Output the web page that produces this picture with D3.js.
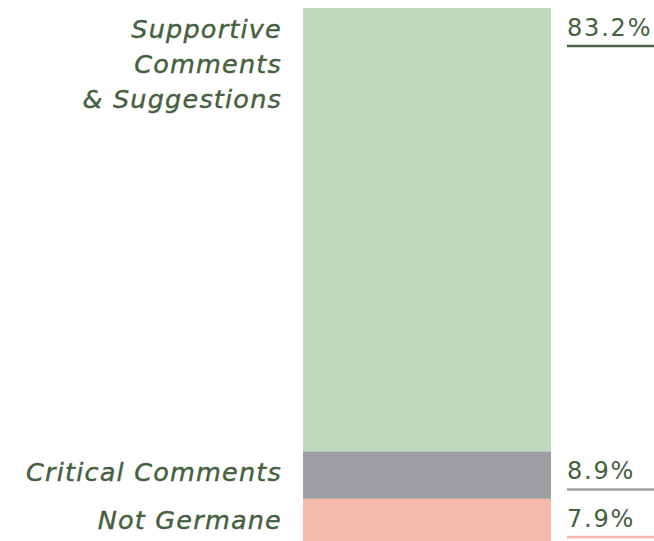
<!DOCTYPE html>
<html>
<head>
<meta charset="utf-8">
<script src="https://cdn.jsdelivr.net/npm/d3@7"></script>
<style>
  body { margin: 0; background: #fff; }
  svg { display: block; }
</style>
</head>
<body>
<svg id="chart" width="654" height="541"></svg>
<script>
const categories = ["Supportive Comments & Suggestions", "Critical Comments", "Not Germane"];
const labelLines = [["Supportive", "Comments", "& Suggestions"], ["Critical Comments"], ["Not Germane"]];
const values = [83.2, 8.9, 7.9];
const valueLabels = ["83.2%", "8.9%", "7.9%"];
const colors = ["#c0dabf", "#9e9fa2", "#f4b9a8"];
const ruleColors = ["#4a6445", "#9e9fa2", "#f4b9a8"];

const textColor = "#45603f";
const svg = d3.select("#chart");

// stack the single bar
let acc = 0;
const segs = values.map((v, i) => {
  const s = { i: i, y0: acc, y1: acc + v };
  acc += v;
  return s;
});

const y = d3.scaleLinear().domain([0, d3.sum(values)]).range([8, 541]);
const x = d3.scaleBand().domain(["all"]).range([303, 551]).padding(0);

svg.selectAll("rect.seg")
  .data(segs)
  .enter()
  .append("rect")
  .attr("class", "seg")
  .attr("x", x("all"))
  .attr("width", x.bandwidth())
  .attr("y", d => y(d.y0))
  .attr("height", d => y(d.y1) - y(d.y0))
  .attr("fill", d => colors[d.i]);

// category labels on the left
const lineH = 35;
segs.forEach(d => {
  const t = svg.append("text")
    .attr("x", 282)
    .attr("y", y(d.y0) + 30)
    .attr("text-anchor", "end")
    .attr("fill", textColor)
    .style("font-family", "'DejaVu Sans', sans-serif")
    .style("font-style", "italic")
    .style("font-size", "25.5px")
    .style("letter-spacing", "1.2px")
    .style("stroke", textColor)
    .style("stroke-width", "0.4px");
  labelLines[d.i].forEach((ln, k) => {
    t.append("tspan").attr("x", 282).attr("dy", k === 0 ? 0 : lineH).text(ln);
  });
});

// value labels on the right, with a coloured rule
segs.forEach(d => {
  const base = y(d.y0) + 28;
  svg.append("text")
    .attr("x", 567)
    .attr("y", base)
    .attr("fill", textColor)
    .style("font-family", "'DejaVu Sans', sans-serif")
    .style("font-size", "24px")
    .style("letter-spacing", "1.8px")
    .text(valueLabels[d.i]);
  svg.append("line")
    .attr("x1", 567)
    .attr("x2", 654)
    .attr("y1", base + 10)
    .attr("y2", base + 10)
    .attr("stroke", ruleColors[d.i])
    .attr("stroke-width", 2.5);
});
</script>
</body>
</html>
